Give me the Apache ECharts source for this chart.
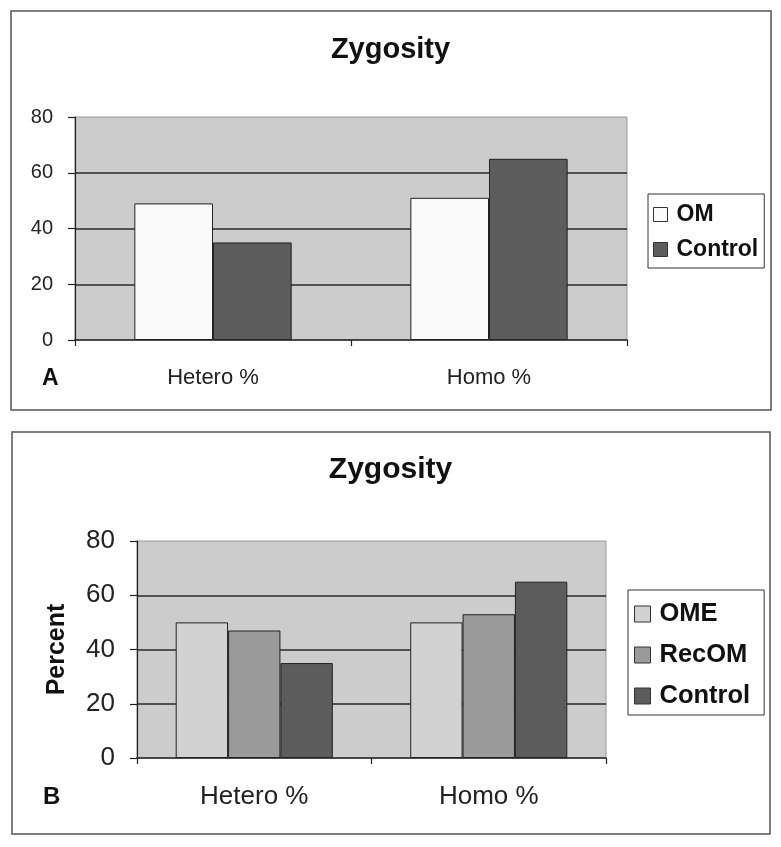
<!DOCTYPE html>
<html>
<head>
<meta charset="utf-8">
<script src="https://cdn.jsdelivr.net/npm/echarts@6/dist/echarts.min.js"></script>
<style>
html,body{margin:0;padding:0;background:#fff;}
#chart{width:781px;height:847px;}
</style>
</head>
<body>
<div id="chart"></div>
<script>
// ---- data ----
var categories = ['Hetero %', 'Homo %'];
var seriesNamesA = ['OM', 'Control'];
var omA = [49, 51];
var controlA = [35, 65];
var seriesNamesB = ['OME', 'RecOM', 'Control'];
var omeB = [50, 50];
var recomB = [47, 53];
var controlB = [35, 65];
var yMin = 0, yMax = 80, yStep = 20;

var FONT = 'Liberation Sans, Arial, sans-serif';
var chart = echarts.init(document.getElementById('chart'), null, {renderer: 'canvas'});

function yAxisCfg(gridIndex, fontSize, name) {
  var cfg = {
    type: 'value', gridIndex: gridIndex, min: yMin, max: yMax, interval: yStep,
    axisLine: {show: true, lineStyle: {color: '#222', width: 1.2}},
    axisTick: {show: true, length: 7, lineStyle: {color: '#222', width: 1.2}},
    axisLabel: {color: '#222', fontSize: fontSize, fontFamily: FONT, margin: 22},
    splitLine: {show: true, showMaxLine: false, showMinLine: false, lineStyle: {color: '#2a2a2a', width: 1.5}}
  };
  if (name) {
    cfg.name = name;
    cfg.nameLocation = 'middle';
    cfg.nameRotate = 90;
    cfg.nameGap = 67;
    cfg.nameTextStyle = {color: '#111', fontSize: 25, fontWeight: 'bold', fontFamily: FONT};
  }
  return cfg;
}
function xAxisCfg(gridIndex, fontSize, margin) {
  return {
    type: 'category', gridIndex: gridIndex, data: categories,
    axisLine: {show: true, lineStyle: {color: '#222', width: 1.5}},
    axisTick: {show: true, length: 6, alignWithLabel: false, lineStyle: {color: '#222', width: 1.2}},
    axisLabel: {color: '#222', fontSize: fontSize, fontFamily: FONT, margin: margin}
  };
}
var barBorder = {borderColor: '#222', borderWidth: 1};

var option = {
  backgroundColor: '#fff',
  animation: false,
  title: [
    {text: 'Zygosity', left: 'center', top: 30, textStyle: {fontSize: 29, fontWeight: 'bold', color: '#111', fontFamily: FONT}},
    {text: 'Zygosity', left: 'center', top: 450, textStyle: {fontSize: 30, fontWeight: 'bold', color: '#111', fontFamily: FONT}}
  ],
  grid: [
    {left: 75, top: 117, width: 552, height: 223, show: true, backgroundColor: '#cccccc', borderColor: '#9a9a9a', borderWidth: 1},
    {left: 137, top: 541, width: 469, height: 217, show: true, backgroundColor: '#cccccc', borderColor: '#9a9a9a', borderWidth: 1}
  ],
  xAxis: [xAxisCfg(0, 22, 27), xAxisCfg(1, 26, 26)],
  yAxis: [yAxisCfg(0, 20), yAxisCfg(1, 26, 'Percent')],
  legend: [
    {
      data: seriesNamesA, orient: 'vertical', left: 648, top: 194,
      itemWidth: 14, itemHeight: 14, itemGap: 12, padding: [9, 6, 7, 5],
      borderColor: '#333', borderWidth: 1, backgroundColor: '#fff',
      textStyle: {fontSize: 23, fontWeight: 'bold', color: '#111', fontFamily: FONT, padding: [0, 0, 0, 4]},
      itemStyle: {borderColor: '#333', borderWidth: 1},
      icon: 'rect', selectedMode: false
    },
    {
      data: seriesNamesB, orient: 'vertical', left: 628, top: 590,
      itemWidth: 16, itemHeight: 16, itemGap: 15, padding: [11, 14, 6, 6],
      borderColor: '#333', borderWidth: 1, backgroundColor: '#fff',
      textStyle: {fontSize: 25.5, fontWeight: 'bold', color: '#111', fontFamily: FONT, padding: [0, 0, 0, 4]},
      itemStyle: {borderColor: '#333', borderWidth: 1},
      icon: 'rect', selectedMode: false
    }
  ],
  series: [
    {name: seriesNamesA[0], type: 'bar', xAxisIndex: 0, yAxisIndex: 0, data: omA,
     barGap: '0%', barCategoryGap: '43%', itemStyle: Object.assign({color: '#fafafa'}, barBorder)},
    {name: seriesNamesA[1], type: 'bar', xAxisIndex: 0, yAxisIndex: 0, data: controlA,
     barGap: '0%', barCategoryGap: '43%', itemStyle: Object.assign({color: '#5c5c5c'}, barBorder)},
    {name: seriesNamesB[0], type: 'bar', xAxisIndex: 1, yAxisIndex: 1, data: omeB,
     barGap: '0%', barCategoryGap: '33%', itemStyle: Object.assign({color: '#d2d2d2'}, barBorder)},
    {name: seriesNamesB[1], type: 'bar', xAxisIndex: 1, yAxisIndex: 1, data: recomB,
     barGap: '0%', barCategoryGap: '33%', itemStyle: Object.assign({color: '#9a9a9a'}, barBorder)},
    {name: seriesNamesB[2], type: 'bar', xAxisIndex: 1, yAxisIndex: 1, data: controlB,
     barGap: '0%', barCategoryGap: '33%', itemStyle: Object.assign({color: '#5c5c5c'}, barBorder)}
  ],
  graphic: [
    {type: 'rect', shape: {x: 11, y: 11, width: 760, height: 399}, style: {fill: 'none', stroke: '#555', lineWidth: 1.5}, silent: true, z: -1},
    {type: 'rect', shape: {x: 12, y: 432, width: 758, height: 402}, style: {fill: 'none', stroke: '#555', lineWidth: 1.5}, silent: true, z: -1},
    {type: 'text', left: 42, top: 367, style: {text: 'A', fontSize: 23, fontWeight: 'bold', fill: '#111', fontFamily: FONT}},
    {type: 'text', left: 43, top: 785, style: {text: 'B', fontSize: 24, fontWeight: 'bold', fill: '#111', fontFamily: FONT}}
  ]
};
chart.setOption(option);
</script>
</body>
</html>
